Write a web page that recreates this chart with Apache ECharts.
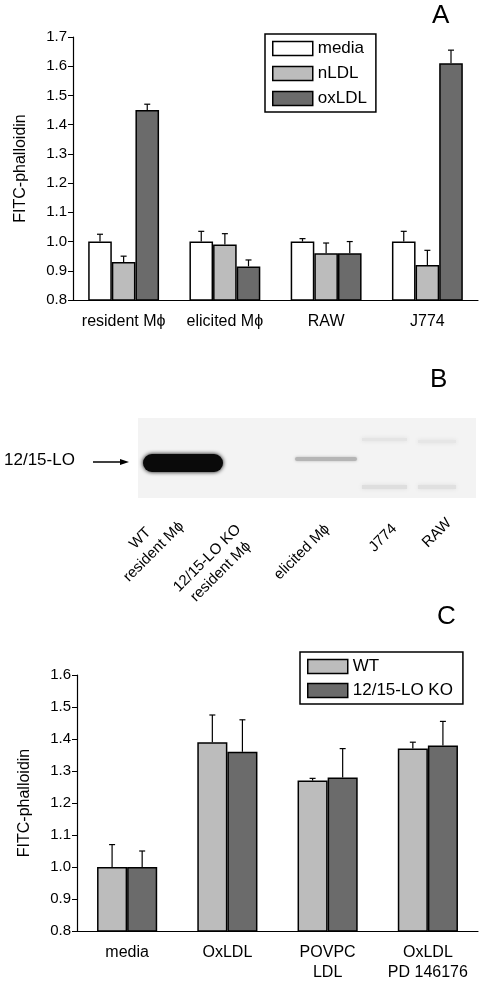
<!DOCTYPE html>
<html><head><meta charset="utf-8">
<script src="https://cdn.jsdelivr.net/npm/echarts@6/dist/echarts.min.js"></script>
<style>html,body{margin:0;padding:0;background:#fff}#c{width:486px;height:991px}</style>
</head><body><div id="c"></div>
<script>
// Panel A
var catsA = ['resident M\u03d5', 'elicited M\u03d5', 'RAW', 'J774'];
var seriesA = ['media', 'nLDL', 'oxLDL'];
var media = [1.0, 1.0, 1.0, 1.0];
var mediaErr = [0.025, 0.035, 0.01, 0.035];
var nLDL = [0.93, 0.99, 0.96, 0.92];
var nLDLErr = [0.02, 0.037, 0.035, 0.05];
var oxLDL = [1.45, 0.915, 0.96, 1.61];
var oxLDLErr = [0.02, 0.022, 0.04, 0.045];
var ticksA = [0.8, 0.9, 1.0, 1.1, 1.2, 1.3, 1.4, 1.5, 1.6, 1.7];
// Panel C
var catsC = ['media', 'OxLDL', 'POVPC\nLDL', 'OxLDL\nPD 146176'];
var seriesC = ['WT', '12/15-LO KO'];
var wt = [1.0, 1.39, 1.27, 1.37];
var wtErr = [0.07, 0.085, 0.007, 0.02];
var ko = [1.0, 1.36, 1.28, 1.38];
var koErr = [0.05, 0.10, 0.09, 0.075];
var ticksC = [0.8, 0.9, 1.0, 1.1, 1.2, 1.3, 1.4, 1.5, 1.6];
// Panel B lanes
var lanes = ['WT\nresident M\u03d5', '12/15-LO KO\nresident M\u03d5', 'elicited M\u03d5', 'J774', 'RAW'];

var colors = {media:'#ffffff', nLDL:'#bcbcbc', oxLDL:'#6b6b6b', WT:'#bcbcbc', '12/15-LO KO':'#6b6b6b'};
var FONT = 'Liberation Sans';

function errSeries(xi, yi, vals, errs, idx, n, gapFrac) {
  return {
    type: 'custom', xAxisIndex: xi, yAxisIndex: yi, z: 5, silent: true,
    data: vals.map(function (v, i) { return [i, v, errs[i]]; }),
    renderItem: function (params, api) {
      var c = api.coord([api.value(0), api.value(1)]);
      var top = api.coord([api.value(0), api.value(1) + api.value(2)]);
      var band = api.size([1, 0])[0];
      var gw = band * (1 - gapFrac), bw = gw / n;
      var x = c[0] - gw / 2 + bw * (idx + 0.5);
      var st = {stroke: '#000', lineWidth: 1.2};
      return {type: 'group', children: [
        {type: 'line', shape: {x1: x, y1: c[1], x2: x, y2: top[1]}, style: st},
        {type: 'line', shape: {x1: x - 3, y1: top[1], x2: x + 3, y2: top[1]}, style: st}
      ]};
    }
  };
}
function bar(name, xi, yi, vals, gap) {
  return {name: name, type: 'bar', xAxisIndex: xi, yAxisIndex: yi, data: vals,
    barGap: '0%', barCategoryGap: gap, z: 3,
    itemStyle: {color: colors[name], borderColor: '#000', borderWidth: 1.5}};
}
function yAx(gi, max) {
  return {type: 'value', gridIndex: gi, min: 0.8, max: max, interval: 0.1,
    name: 'FITC-phalloidin', nameLocation: 'middle', nameGap: 44,
    nameTextStyle: {fontFamily: FONT, fontSize: 16, color: '#000'},
    axisLine: {show: true, lineStyle: {color: '#000', width: 1.2}},
    axisTick: {show: true, length: 5, lineStyle: {color: '#000'}},
    splitLine: {show: false},
    axisLabel: {fontFamily: FONT, fontSize: 15, color: '#000', margin: 6,
      formatter: function (v) { return v.toFixed(1); }}};
}
function xAx(gi, cats) {
  return {type: 'category', gridIndex: gi, data: cats,
    axisLine: {lineStyle: {color: '#000', width: 1.2}},
    axisTick: {alignWithLabel: true, length: 6, lineStyle: {color: '#000'}},
    axisLabel: {interval: 0, fontFamily: FONT, fontSize: 16, color: '#000', margin: 12, lineHeight: 20}};
}

var graphics = [
  {type: 'text', x: 432, y: 3, style: {text: 'A', font: '26px ' + FONT, fill: '#000'}},
  {type: 'text', x: 430, y: 367, style: {text: 'B', font: '26px ' + FONT, fill: '#000'}},
  {type: 'text', x: 437, y: 604, style: {text: 'C', font: '26px ' + FONT, fill: '#000'}},
  // blot
  {type: 'rect', shape: {x: 138, y: 418, width: 338, height: 80}, style: {fill: '#f3f3f3'}},
  {type: 'rect', shape: {x: 143, y: 454, width: 80, height: 18, r: 9}, style: {fill: '#0a0a0a', shadowBlur: 4, shadowColor: '#000'}},
  {type: 'rect', shape: {x: 295, y: 457, width: 62, height: 4, r: 2}, style: {fill: '#b5b5b5', shadowBlur: 3, shadowColor: '#bbb'}},
  {type: 'rect', shape: {x: 362, y: 438, width: 45, height: 3}, style: {fill: '#e4e4e4', shadowBlur: 4, shadowColor: '#ddd'}},
  {type: 'rect', shape: {x: 362, y: 485, width: 45, height: 4}, style: {fill: '#dedede', shadowBlur: 4, shadowColor: '#ddd'}},
  {type: 'rect', shape: {x: 418, y: 485, width: 38, height: 4}, style: {fill: '#e0e0e0', shadowBlur: 4, shadowColor: '#ddd'}},
  {type: 'rect', shape: {x: 418, y: 440, width: 38, height: 3}, style: {fill: '#e6e6e6', shadowBlur: 4, shadowColor: '#ddd'}},
  {type: 'text', x: 4, y: 452, style: {text: '12/15-LO', font: '17px ' + FONT, fill: '#000'}},
  {type: 'line', shape: {x1: 93, y1: 462, x2: 124, y2: 462}, style: {stroke: '#000', lineWidth: 1.5}},
  {type: 'polygon', shape: {points: [[129, 462], [120, 459], [120, 465]]}, style: {fill: '#000'}}
];
var laneCenters = [[147, 545], [214, 565], [302, 552], [383, 538], [437, 533]];
lanes.forEach(function (t, i) {
  graphics.push({type: 'text', x: laneCenters[i][0], y: laneCenters[i][1], rotation: Math.PI / 4,
    style: {text: t, font: '15px ' + FONT, fill: '#000', align: 'center', verticalAlign: 'middle', lineHeight: 19}});
});

var option = {
  animation: false,
  grid: [
    {left: 73, top: 37, width: 405, height: 263},
    {left: 77, top: 675, width: 401, height: 256}
  ],
  legend: [
    {data: seriesA, left: 265, top: 34, orient: 'vertical', icon: 'rect', itemWidth: 40, itemHeight: 14, itemGap: 8,
      borderColor: '#000', borderWidth: 1.5, borderRadius: 0, padding: [6, 9, 5, 7],
      textStyle: {fontFamily: FONT, fontSize: 17, color: '#000'},
      itemStyle: {borderColor: '#000', borderWidth: 1.5}},
    {data: seriesC, left: 300, top: 652, orient: 'vertical', icon: 'rect', itemWidth: 40, itemHeight: 14, itemGap: 7,
      borderColor: '#000', borderWidth: 1.5, borderRadius: 0, padding: [6, 10, 5, 7],
      textStyle: {fontFamily: FONT, fontSize: 17, color: '#000'},
      itemStyle: {borderColor: '#000', borderWidth: 1.5}}
  ],
  xAxis: [xAx(0, catsA), xAx(1, catsC)],
  yAxis: [yAx(0, 1.7), yAx(1, 1.6)],
  series: [
    bar('media', 0, 0, media, '30%'), bar('nLDL', 0, 0, nLDL, '30%'), bar('oxLDL', 0, 0, oxLDL, '30%'),
    errSeries(0, 0, media, mediaErr, 0, 3, 0.3), errSeries(0, 0, nLDL, nLDLErr, 1, 3, 0.3), errSeries(0, 0, oxLDL, oxLDLErr, 2, 3, 0.3),
    bar('WT', 1, 1, wt, '40%'), bar('12/15-LO KO', 1, 1, ko, '40%'),
    errSeries(1, 1, wt, wtErr, 0, 2, 0.4), errSeries(1, 1, ko, koErr, 1, 2, 0.4)
  ],
  graphic: graphics
};
echarts.init(document.getElementById('c')).setOption(option);
</script></body></html>
